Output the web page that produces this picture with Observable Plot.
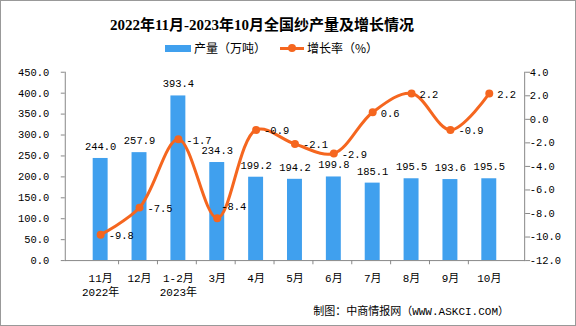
<!DOCTYPE html>
<html><head><meta charset="utf-8">
<script src="https://cdn.jsdelivr.net/npm/d3@7"></script>
<script src="https://cdn.jsdelivr.net/npm/@observablehq/plot@0.6"></script>
<style>
body{margin:0;background:#fff}
#c{position:relative;width:576px;height:326px;box-sizing:border-box;border:1px solid #999;overflow:hidden;background:#fff}
#c svg{position:absolute;left:-1px;top:-1px}
.t{position:absolute;white-space:nowrap;color:#000}
#title{left:0;width:522px;top:12px;text-align:center;font:bold 15px "Liberation Serif","Noto Sans CJK SC";}
.lg{top:39px;font:12px "Noto Sans CJK SC";line-height:16px}
#foot{right:66px;top:304px;font:11px "Liberation Mono","Noto Sans CJK SC";line-height:14px}
</style></head><body><div id="c">
<div class="t" id="title">2022年11月-2023年10月全国纱产量及增长情况</div>
<div class="t lg" style="left:164px"><span style="display:inline-block;width:26px;height:7px;background:#40A0EE;vertical-align:middle;margin-right:3px;margin-top:-3px"></span>产量（万吨）</div>
<div class="t lg" style="left:279px"><span style="display:inline-block;position:relative;width:24px;height:3px;background:#F5661F;vertical-align:middle;margin-right:3px;margin-top:-3px"><span style="position:absolute;left:8px;top:-3px;width:8px;height:8px;border-radius:50%;background:#F5661F"></span></span>增长率（%）</div>
<div class="t" id="foot">制图：中商情报网（WWW.ASKCI.COM）</div>
</div>
<script>
const months = ["11月","12月","1-2月","3月","4月","5月","6月","7月","8月","9月","10月"];
const years = ["2022年","","2023年","","","","","","","",""];
const output = [244.0,257.9,393.4,234.3,199.2,194.2,199.8,185.1,195.5,193.6,195.5];
const growth = [-9.8,-7.5,-1.7,-8.4,-0.9,-2.1,-2.9,0.6,2.2,-0.9,2.2];
const leftTicks = [0,50,100,150,200,250,300,350,400,450];
const rightTicks = [-12,-10,-8,-6,-4,-2,0,2,4];

const rMin = -12, rMax = 4, lMax = 450;
const toY = g => (g - rMin) * lMax / (rMax - rMin);
const fromY = y => y * (rMax - rMin) / lMax + rMin;

const data = months.map((m,i)=>({m, yr: years[i], v: output[i], g: growth[i], gy: toY(growth[i])}));
const orange = "#F5661F", blue = "#40A0EE", grey = "#888";
const font = "'Liberation Mono','Noto Sans CJK SC'";

const chart = Plot.plot({
  width: 576, height: 326,
  marginLeft: 65, marginRight: 50, marginTop: 72, marginBottom: 65,
  x: {domain: months, padding: 0.62, axis: null, label: null},
  y: {domain: [0, lMax], axis: null, label: null},
  style: {fontFamily: font, fontSize: "10.5px", color: "#000", background: "transparent", overflow: "visible"},
  marks: [
    Plot.barY(data, {x: "m", y: "v", fill: blue}),
    Plot.text(data, {x: "m", y: "v", text: d => d.v.toFixed(1), dy: -12, fontSize: 10.5}),
    Plot.line(data, {x: "m", y: "gy", stroke: orange, strokeWidth: 3, curve: "catmull-rom"}),
    Plot.dot(data, {x: "m", y: "gy", r: 4, fill: orange}),
    Plot.text(data.filter(d => d.m !== "3月"), {x: "m", y: "gy", text: d => d.g.toFixed(1), textAnchor: "start", dx: 8, dy: 1, fontSize: 10.5}),
    Plot.text(data.filter(d => d.m === "3月"), {x: "m", y: "gy", text: d => d.g.toFixed(1), textAnchor: "start", dx: 4, dy: -12, fontSize: 10.5}),
    Plot.frame({anchor: "left", stroke: grey}),
    Plot.frame({anchor: "right", stroke: grey}),
    Plot.frame({anchor: "bottom", stroke: grey}),
    Plot.ruleX(months.slice(1), {x: d => d, y1: 0, y2: -10, dx: -21, stroke: grey}),
    Plot.axisY(leftTicks, {anchor: "left", label: null, tickSize: 4, tickPadding: 12, tickFormat: d => d.toFixed(1), stroke: grey, fontSize: 10.5}),
    Plot.axisY(rightTicks.map(toY), {anchor: "right", label: null, tickSize: 5, tickPadding: 0, tickFormat: d => fromY(d).toFixed(1), stroke: grey, fontSize: 10.5}),
    Plot.axisX(months, {anchor: "bottom", label: null, tickSize: 0, tickPadding: 11, lineHeight: 1.3, fontSize: 11,
      tickFormat: (d) => { const i = months.indexOf(d); return years[i] ? d + "\n" + years[i] : d; }})
  ]
});
document.getElementById("c").prepend(chart);
</script>
</body></html>
